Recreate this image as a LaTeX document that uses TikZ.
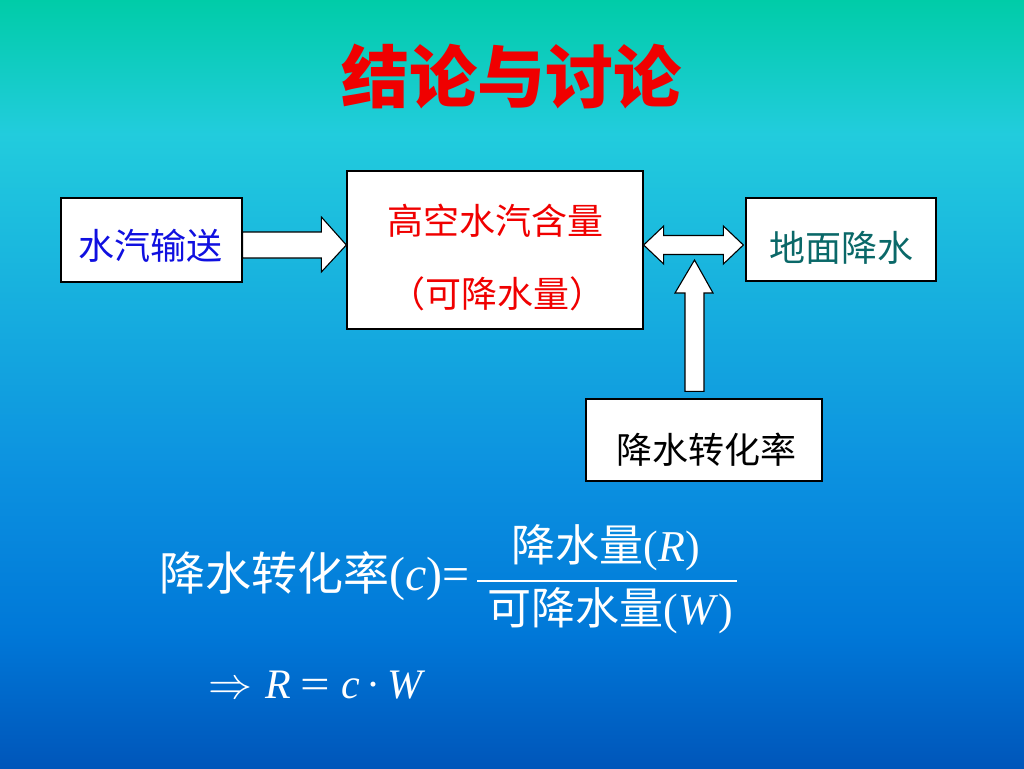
\documentclass[tikz,border=0pt]{standalone}
\usepackage{graphicx}
\usepackage{fontspec}
\setmainfont{Liberation Serif}
\newfontfamily\cjk{Noto Sans CJK SC}
\usetikzlibrary{calc}
\definecolor{bgA}{RGB}{0,204,168}
\definecolor{bgB}{RGB}{34,204,221}
\definecolor{bgC}{RGB}{12,146,224}
\definecolor{bgD}{RGB}{0,120,216}
\definecolor{bgE}{RGB}{0,86,186}
\definecolor{txtblue}{RGB}{16,16,224}
\definecolor{txtred}{RGB}{240,0,0}
\definecolor{txtteal}{RGB}{10,104,104}
\tikzset{
  box/.style={draw=black, line width=1.3pt, fill=white, inner sep=0pt},
  blockarrow/.style={draw=black, line width=1.1pt, fill=white, line join=miter},
  boxtext/.style={font=\cjk\fontsize{36}{40}\selectfont, inner sep=0pt},
  formula/.style={font=\fontsize{44}{50}\selectfont, text=white, inner sep=0pt},
}
\newcommand{\zh}[1]{{\cjk\fontsize{46}{50}\selectfont #1}}
\begin{document}
\begin{tikzpicture}[x=1pt,y=-1pt]
\useasboundingbox (0,0) rectangle (1024,768);
% background gradient
\shade[top color=bgA, bottom color=bgB] (0,0) rectangle (1024,134);
\shade[top color=bgB, bottom color=bgC] (0,133) rectangle (1024,468);
\shade[top color=bgC, bottom color=bgD] (0,467) rectangle (1024,634);
\shade[top color=bgD, bottom color=bgE] (0,633) rectangle (1024,768);

% title
\node[font=\cjk\bfseries\fontsize{68}{72}\selectfont, text=txtred, inner sep=0pt] (title) at (511,77) {结论与讨论};

% boxes
\node[box, minimum width=181pt, minimum height=84pt] (b1) at (151.5,240) {};
\node[box, minimum width=296pt, minimum height=158pt] (b2) at (495,250) {};
\node[box, minimum width=190pt, minimum height=83pt] (b3) at (841,239.5) {};
\node[box, minimum width=236pt, minimum height=82pt] (b4) at (704,440) {};

% box texts
\node[boxtext, text=txtblue] (t1) at (150,246) {水汽输送};
\node[boxtext, text=txtred] (t2a) at (495,221) {高空水汽含量};
\node[boxtext, text=txtred] (t2b) at (497,294) {（可降水量）};
\node[boxtext, text=txtteal] (t3) at (841,248) {地面降水};
\node[boxtext, text=black] (t4) at (706,450) {降水转化率};

% arrow b1 -> b2
\coordinate (a1s) at ($(b1.east)+(0,5)$);
\coordinate (a1e) at ($(b2.west)+(0,-5)$);
\draw[blockarrow] ($(a1s)+(0,-13)$) -- ($(a1e)+(-25,-13)$) -- ($(a1e)+(-25,-28)$) -- (a1e)
  -- ($(a1e)+(-25,27)$) -- ($(a1e)+(-25,13)$) -- ($(a1s)+(0,13)$) -- cycle;

% double arrow b2 <-> b3
\coordinate (a2l) at ($(b2.east)+(0,-5)$);
\coordinate (a2r) at ($(b3.west)+(-2,5.5)$);
\draw[blockarrow] (a2l) -- ($(a2l)+(20,-19)$) -- ($(a2l)+(20,-9.5)$) -- ($(a2r)+(-20,-9.5)$)
  -- ($(a2r)+(-20,-19)$) -- (a2r) -- ($(a2r)+(-20,19)$) -- ($(a2r)+(-20,9.5)$)
  -- ($(a2l)+(20,9.5)$) -- ($(a2l)+(20,19)$) -- cycle;

% up arrow b4 -> double arrow
\coordinate (a3b) at ($(b4.north)+(-9.5,-7)$);
\coordinate (a3t) at (694.5,260);
\draw[blockarrow] ($(a3b)+(-9.5,0)$) -- ($(a3t)+(-9.5,33)$) -- ($(a3t)+(-19.5,33)$) -- (a3t)
  -- ($(a3t)+(18.5,33)$) -- ($(a3t)+(9.5,33)$) -- ($(a3b)+(9.5,0)$) -- cycle;

% formula
\node[formula, font=\fontsize{48}{52}\selectfont, anchor=east] (fl) at (470,576) {\zh{降水转化率}(\textit{c})=};
\node[formula] (fn) at (606,548) {{\cjk 降水量}(\textit{R})};
\node[formula] (fd) at (610,611) {{\cjk 可降水量}(\textit{W})};
\coordinate (barL) at (477,581);
\coordinate (barR) at (737,581);
\draw[white, line width=2pt] (barL) -- (barR);
\node[text=white, inner sep=0pt, font=\fontsize{42}{46}\selectfont, anchor=base west] (impl) at (208,698)
  {\resizebox{44pt}{!}{$\Rightarrow$}\hspace{13pt}\textit{R}\hspace{10pt}\scalebox{1.25}[1]{=}\hspace{11pt}\textit{c}\hspace{6pt}·\hspace{7pt}\textit{W}};
\end{tikzpicture}
\end{document}
